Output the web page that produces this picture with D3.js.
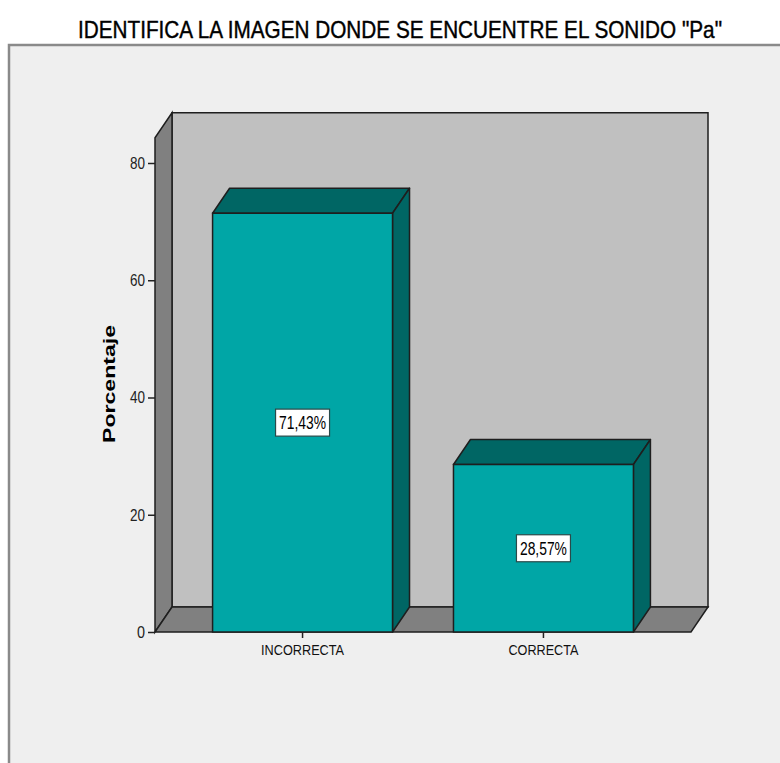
<!DOCTYPE html>
<html>
<head>
<meta charset="utf-8">
<script src="https://cdn.jsdelivr.net/npm/d3@7"></script>
<style>
  html, body { margin: 0; padding: 0; background: #ffffff; }
  svg { display: block; }
  text { font-family: "Liberation Sans", Arial, sans-serif; }
</style>
</head>
<body>
<script>
// ---- data ----
const categories = ["INCORRECTA", "CORRECTA"];
const values = [71.43, 28.57];
const valueLabels = ["71,43%", "28,57%"];
const yTicks = [0, 20, 40, 60, 80];
const titleText = 'IDENTIFICA LA IMAGEN DONDE SE ENCUENTRE EL SONIDO "Pa"';
const yLabel = "Porcentaje";

// ---- layout ----
const W = 780, H = 763;
const depthX = 17, depthY = -25;
const yMaxWall = 84.3;

const svg = d3.select("body").append("svg").attr("width", W).attr("height", H);

// outer frame
svg.append("rect").attr("x", 0).attr("y", 0).attr("width", W).attr("height", H).attr("fill", "#ffffff");
svg.append("rect").attr("x", 9).attr("y", 45).attr("width", W + 20).attr("height", H + 20)
  .attr("fill", "#efefef").attr("stroke", "#8a8a8a").attr("stroke-width", 2.5);

// title (condensed look: narrower glyphs, taller via vertical scale)
svg.append("g").attr("transform", "translate(400,38) scale(1,1.2)")
  .append("text").attr("x", 0).attr("y", 0).attr("text-anchor", "middle")
  .attr("font-size", 20).attr("fill", "#000").attr("stroke", "#000").attr("stroke-width", 0.35)
  .attr("textLength", 644).attr("lengthAdjust", "spacingAndGlyphs")
  .text(titleText);

const y = d3.scaleLinear().domain([0, 80]).range([632, 163]);
const x = d3.scaleBand().domain(categories).range([155, 691]).paddingInner(0.253).paddingOuter(0.239);

const x0 = x.range()[0], x1 = x.range()[1];
const yb = y(0), yt = y(yMaxWall);
const pts = a => a.map(p => p.join(",")).join(" ");
const outline = "#1e1e1e";

// back wall
svg.append("polygon").attr("points", pts([[x0 + depthX, yb + depthY], [x1 + depthX, yb + depthY], [x1 + depthX, yt + depthY], [x0 + depthX, yt + depthY]]))
  .attr("fill", "#c0c0c0").attr("stroke", outline).attr("stroke-width", 1.5);
// left wall
svg.append("polygon").attr("points", pts([[x0, yb], [x0 + depthX, yb + depthY], [x0 + depthX, yt + depthY], [x0, yt]]))
  .attr("fill", "#808080").attr("stroke", outline).attr("stroke-width", 1.5);
// floor
svg.append("polygon").attr("points", pts([[x0, yb], [x1, yb], [x1 + depthX, yb + depthY], [x0 + depthX, yb + depthY]]))
  .attr("fill", "#808080").attr("stroke", outline).attr("stroke-width", 1.5);

// bars
const bars = svg.append("g");
categories.forEach((c, i) => {
  const bx0 = x(c), bx1 = x(c) + x.bandwidth();
  const vy = y(values[i]);
  const g = bars.append("g");
  g.append("polygon").attr("points", pts([[bx0, vy], [bx0 + depthX, vy + depthY], [bx1 + depthX, vy + depthY], [bx1, vy]]))
    .attr("fill", "#006664").attr("stroke", outline).attr("stroke-width", 1.5).attr("stroke-linejoin", "round");
  g.append("polygon").attr("points", pts([[bx1, vy], [bx1 + depthX, vy + depthY], [bx1 + depthX, yb + depthY], [bx1, yb]]))
    .attr("fill", "#006664").attr("stroke", outline).attr("stroke-width", 1.5).attr("stroke-linejoin", "round");
  g.append("rect").attr("x", bx0).attr("y", vy).attr("width", bx1 - bx0).attr("height", yb - vy)
    .attr("fill", "#00a6a6").attr("stroke", outline).attr("stroke-width", 1.5);

  // value label
  const cx = bx0 + x.bandwidth() / 2, cy = y(values[i] / 2);
  const bw = 54, bh = 27;
  g.append("rect").attr("x", cx - bw / 2).attr("y", cy - bh / 2).attr("width", bw).attr("height", bh)
    .attr("fill", "#ffffff").attr("stroke", "#2a4a4a").attr("stroke-width", 1.2);
  g.append("text").attr("x", cx).attr("y", cy + 6.5).attr("text-anchor", "middle")
    .attr("font-size", 18).attr("fill", "#000")
    .attr("textLength", 47).attr("lengthAdjust", "spacingAndGlyphs")
    .text(valueLabels[i]);
});

// y axis
const yAxis = d3.axisLeft(y).tickValues(yTicks).tickSize(7).tickPadding(3);
const gy = svg.append("g").attr("transform", `translate(${x0},0)`).call(yAxis);
gy.select(".domain").remove();
gy.selectAll(".tick line").attr("stroke", "#222").attr("stroke-width", 1.5);
gy.selectAll(".tick text").attr("font-size", 17).attr("fill", "#222")
  .attr("font-family", "Liberation Sans, Arial, sans-serif")
  .attr("textLength", d => d === 0 ? 8 : 15).attr("lengthAdjust", "spacingAndGlyphs");

// x axis
const xAxis = d3.axisBottom(x).tickSize(6).tickPadding(6);
const gx = svg.append("g").attr("transform", `translate(0,${yb})`).call(xAxis);
gx.select(".domain").remove();
gx.selectAll(".tick line").attr("stroke", "#222").attr("stroke-width", 1.5);
gx.selectAll(".tick text").attr("font-size", 15).attr("fill", "#111")
  .attr("font-family", "Liberation Sans, Arial, sans-serif")
  .attr("textLength", d => d === "INCORRECTA" ? 83 : 70).attr("lengthAdjust", "spacingAndGlyphs");

// y label
svg.append("text").attr("transform", "translate(115,384) rotate(-90)").attr("text-anchor", "middle")
  .attr("font-size", 17).attr("font-weight", "bold").attr("fill", "#000")
  .attr("textLength", 118).attr("lengthAdjust", "spacingAndGlyphs")
  .text(yLabel);
</script>
</body>
</html>
